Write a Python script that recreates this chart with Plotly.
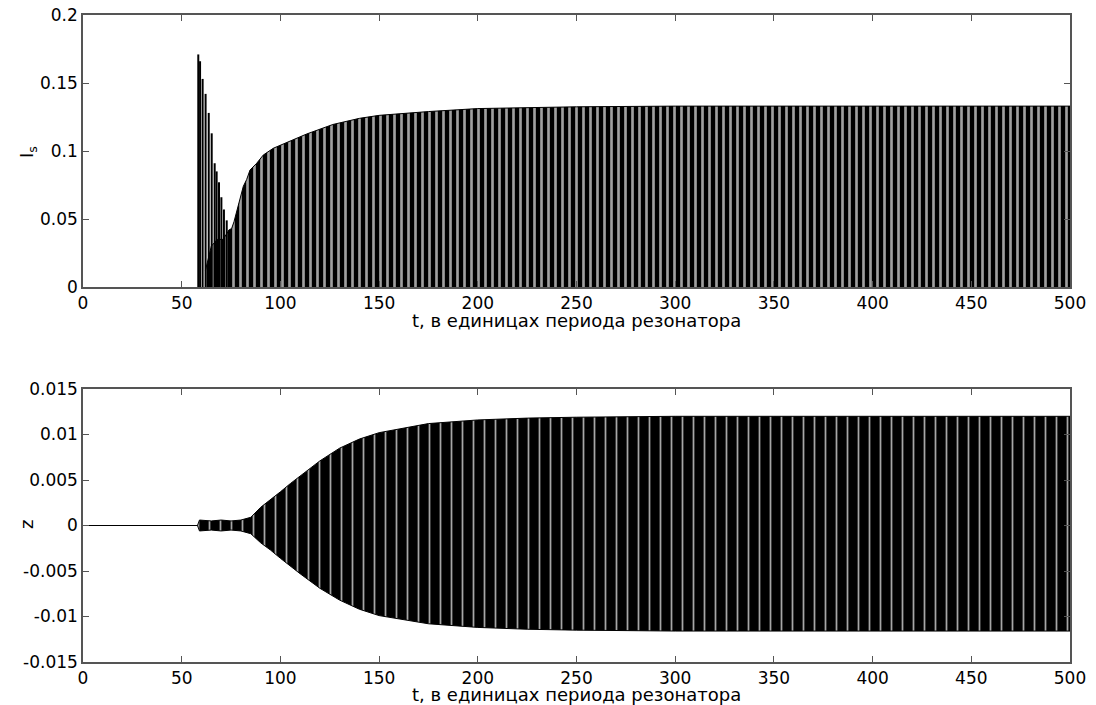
import plotly.graph_objects as go

# page is drawn with an 8px body margin, so the figure is sized to fill the rest
OFF = 8
W, H = 1096 - OFF, 705 - OFF

# ---- data ----
# top panel: isolated early pulses (time, peak height)
spike_t = [58.4, 59.3, 60.6, 62.1, 63.7, 65.2, 66.7, 67.7, 68.9, 70.1, 71.4, 72.8, 74.1]
spike_h = [0.171, 0.166, 0.153, 0.142, 0.128, 0.113, 0.091, 0.085, 0.077, 0.066, 0.057, 0.049, 0.042]

# top panel: upper envelope of the dense pulse train (lower envelope ~ 0)
env_t = [62, 65, 68, 71, 74, 75.3, 76.5, 78.2, 79.5, 81.2, 82.9, 84.6, 88, 91.3, 96.4,
         103.2, 113.3, 126.6, 140, 150, 175, 200, 250, 300, 400, 500]
env_up = [0.012, 0.03, 0.035, 0.035, 0.042, 0.043, 0.048, 0.057, 0.064, 0.074, 0.079, 0.086,
          0.091, 0.097, 0.102, 0.106, 0.1125, 0.1195, 0.124, 0.1262, 0.129, 0.1312, 0.1325,
          0.133, 0.133, 0.133]

# bottom panel: envelopes of z oscillation
z_t = [0, 58, 59, 65, 70, 75, 80, 85, 90, 95, 100, 105, 110, 120, 130, 140, 150, 175, 200,
       225, 250, 300, 350, 400, 450, 500]
z_up = [0, 0, 0.0006, 0.0005, 0.0006, 0.0005, 0.0006, 0.0009, 0.002, 0.0028, 0.0037, 0.0046,
        0.0054, 0.0071, 0.0085, 0.0095, 0.0102, 0.0112, 0.0116, 0.0118, 0.0119, 0.012, 0.012,
        0.012, 0.012, 0.012]
z_lo = [0, 0, -0.0006, -0.0005, -0.0006, -0.0005, -0.0006, -0.0009, -0.0019, -0.0027, -0.0036,
        -0.0045, -0.0053, -0.0069, -0.0082, -0.0092, -0.0099, -0.0108, -0.0112, -0.0114,
        -0.0115, -0.0116, -0.0116, -0.0116, -0.0116, -0.0116]

x_ticks = [0, 50, 100, 150, 200, 250, 300, 350, 400, 450, 500]
top_yticks = [0, 0.05, 0.1, 0.15, 0.2]
top_ylabels = ["0", "0.05", "0.1", "0.15", "0.2"]
bot_yticks = [-0.015, -0.01, -0.005, 0, 0.005, 0.01, 0.015]
bot_ylabels = ["-0.015", "-0.01", "-0.005", "0", "0.005", "0.01", "0.015"]
x_title = "t, в единицах периода резонатора"


def px(xw):
    return (xw - OFF) / W


def py(yw):
    return 1 - (yw - OFF) / H


# ---- figure ----
fig = go.Figure()

# top: dense pulse train as patterned area
fig.add_trace(go.Scatter(
    x=env_t, y=env_up, mode="lines", line=dict(color="black", width=1),
    fill="tozeroy", fillcolor="black",
    fillpattern=dict(shape="|", bgcolor="black", fgcolor="rgb(160,160,160)",
                     size=7, solidity=0.38, fillmode="replace"),
    xaxis="x", yaxis="y", hoverinfo="skip"))

# top: isolated early pulses as vertical strokes
sx, sy = [], []
for t, h in zip(spike_t, spike_h):
    sx += [t, t, None]
    sy += [0, h, None]
fig.add_trace(go.Scatter(x=sx, y=sy, mode="lines", line=dict(color="black", width=2),
                         xaxis="x", yaxis="y", hoverinfo="skip"))

# bottom: envelope polygon
fig.add_trace(go.Scatter(
    x=z_t + z_t[::-1], y=z_up + z_lo[::-1], mode="lines",
    line=dict(color="black", width=1), fill="toself", fillcolor="black",
    fillpattern=dict(shape="|", bgcolor="black", fgcolor="rgb(165,165,165)",
                     size=11, solidity=0.16, fillmode="replace"),
    xaxis="x2", yaxis="y2", hoverinfo="skip"))

dom_x = [px(83), px(1070)]
tick_font = dict(family="DejaVu Sans, Liberation Sans, sans-serif", size=17, color="black")
title_font = dict(family="DejaVu Sans, Liberation Sans, sans-serif", size=18, color="black")
axis_common = dict(showline=True, linecolor="#555", linewidth=1.5, mirror="ticks",
                   ticks="inside", ticklen=6, tickcolor="#555", showgrid=False,
                   zeroline=False, tickfont=tick_font, automargin=False,
                   ticklabeloverflow="allow")

fig.update_layout(
    width=W, height=H, margin=dict(l=0, r=0, t=0, b=0),
    paper_bgcolor="white", plot_bgcolor="white", showlegend=False,
    xaxis=dict(domain=dom_x, range=[0, 500], tickvals=x_ticks, anchor="y", **axis_common),
    yaxis=dict(domain=[py(287), py(15)], range=[0, 0.2], tickvals=top_yticks,
               ticktext=top_ylabels, anchor="x", **axis_common),
    xaxis2=dict(domain=dom_x, range=[0, 500], tickvals=x_ticks, anchor="y2", **axis_common),
    yaxis2=dict(domain=[py(662), py(389)], range=[-0.015, 0.015],
                tickvals=bot_yticks, ticktext=bot_ylabels, anchor="x2", **axis_common),
)

anns = [
    dict(text=x_title, x=px(576), y=py(320)),
    dict(text=x_title, x=px(576), y=py(694)),
    dict(text="I<sub>s</sub>", x=px(28), y=py(152), textangle=-90),
    dict(text="z", x=px(26), y=py(525), textangle=-90),
]
for a in anns:
    fig.add_annotation(xref="paper", yref="paper", showarrow=False,
                       xanchor="center", yanchor="middle", font=title_font, **a)

fig.write_html("out.html")
